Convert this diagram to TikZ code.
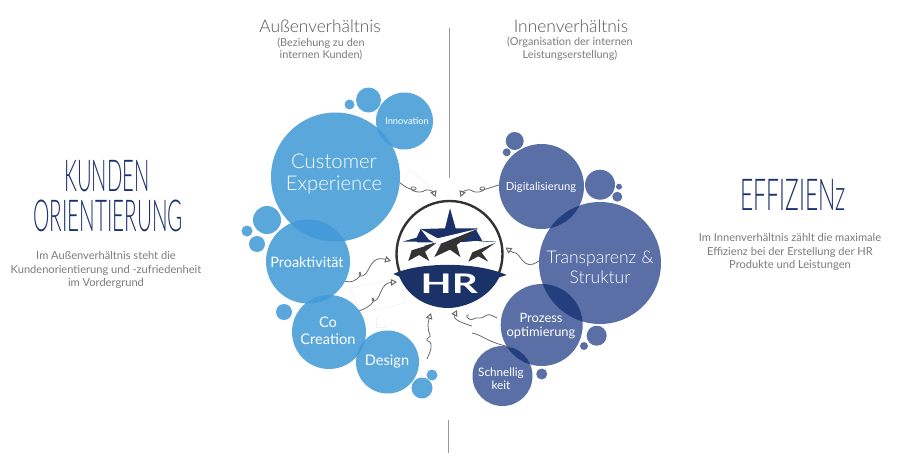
\documentclass[tikz,border=0pt]{standalone}
\usepackage{fontspec}
\usetikzlibrary{arrows.meta}
\setmainfont{Lato}
\newfontfamily\lgt{Lato Light}
\newfontfamily\hrf{Lato Bold}
\definecolor{lb}{HTML}{5AA7DC}
\definecolor{lbd}{HTML}{459BDA}
\definecolor{db}{HTML}{5A6FA6}
\definecolor{dbd}{HTML}{233F7E}
\definecolor{navy}{HTML}{1B3268}
\definecolor{hand}{HTML}{1A2F6E}
\definecolor{txt}{HTML}{7C7C7C}
\definecolor{hd}{HTML}{555555}
\definecolor{sq}{HTML}{6A6A6A}
\definecolor{dk}{HTML}{333333}
\tikzset{
 bub/.style 2 args={circle,inner sep=0pt,outer sep=0pt,text=white,align=center,font=\fontsize{#1}{#2}\selectfont},
 bubl/.style 2 args={circle,inner sep=0pt,outer sep=0pt,text=white,align=center,font=\lgt\fontsize{#1}{#2}\selectfont},
 lbub/.style={circle,inner sep=0pt,outer sep=0pt,fill=lb},
 dbub/.style={circle,inner sep=0pt,outer sep=0pt,fill=db},
 squig/.style={draw=sq,line width=.8pt,-{Triangle[open,length=6pt,width=6.5pt,line width=1pt]}},
 squigp/.style={draw=sq,line width=.8pt},
 headt/.style={text=hd,align=center,font=\lgt\fontsize{17.4}{20}\selectfont},
 subt/.style={text=txt,align=center,font=\fontsize{10.9}{12.5}\selectfont},
 bodyt/.style={text=txt,align=center,font=\fontsize{11.1}{13.2}\selectfont},
 handt/.style={text=hand,align=center,inner sep=0pt},
 divl/.style={draw=gray!80,line width=.7pt},
 faint/.style={draw=gray!12,line width=.5pt}
}
\newcommand{\handword}[2][.46]{\scalebox{#1}[1]{\lgt\fontsize{44}{44}\selectfont #2}}
\begin{document}
\begin{tikzpicture}[x=1pt,y=-1pt]
\useasboundingbox (0,0) rectangle (900,463);
\fill[white] (0,0) rectangle (900,463);
% divider lines
\coordinate (d1) at (449,28); \coordinate (d2) at (449,178);
\coordinate (d3) at (448,420); \coordinate (d4) at (448,453);
\draw[divl] (d1)--(d2); \draw[divl] (d3)--(d4);
% faint marks
\draw[faint] (350,288)--(400,278)--(405,303)--(360,313)--cycle;
\draw[faint] (376,317)--(376,327)--(387,327);
\draw[faint] (400,187)--(410,170)--(437,193);
% left bubbles
\node[lbub,minimum size=10pt] (s1) at (349.5,104.5) {};
\node[lbub,minimum size=25pt] (s2) at (368.5,100) {};
\node[lbub,minimum size=129pt] (cust) at (335.5,177) {};
\node[lbub,minimum size=57pt] (inno) at (404.5,121) {};
\node[lbub,minimum size=28pt] (s3) at (267,220) {};
\node[lbub,minimum size=16pt] (s4) at (257,244) {};
\node[lbub,minimum size=11pt] (s5) at (247,231) {};
\node[lbub,minimum size=84pt] (pro) at (308,261.5) {};
\node[lbub,minimum size=16pt] (s6) at (284,312) {};
\node[lbub,minimum size=74pt] (co) at (329,332) {};
\node[lbub,minimum size=63pt] (des) at (387.5,362) {};
\node[lbub,minimum size=21pt] (s7) at (422,388) {};
\node[lbub,minimum size=11pt] (s8) at (432,375) {};
% overlaps
\begin{scope}\clip (335.5,177) circle (64.5);\fill[lbd] (308,261.5) circle (42);\end{scope}
\begin{scope}\clip (335.5,177) circle (64.5);\fill[lbd] (404.5,121) circle (28.5);\end{scope}
\begin{scope}\clip (308,261.5) circle (42);\fill[lbd] (329,332) circle (37);\end{scope}
\begin{scope}\clip (329,332) circle (37);\fill[lbd] (387.5,362) circle (31.5);\end{scope}
% right bubbles
\node[dbub,minimum size=18pt] (r1) at (514.7,141) {};
\node[dbub,minimum size=8pt] (r2) at (506.7,152.3) {};
\node[dbub,minimum size=85pt] (dig) at (541.5,186.5) {};
\node[dbub,minimum size=30pt] (r3) at (600,184.7) {};
\node[dbub,minimum size=6pt] (r4) at (619,186.7) {};
\node[dbub,minimum size=10pt] (r5) at (617.3,196.7) {};
\node[dbub,minimum size=122pt] (tra) at (600,263) {};
\node[dbub,minimum size=82pt] (pz) at (541.7,325) {};
\node[dbub,minimum size=20pt] (r6) at (596.7,335.7) {};
\node[dbub,minimum size=8pt] (r7) at (584,346) {};
\node[dbub,minimum size=60pt] (sch) at (502.5,376) {};
\node[dbub,minimum size=11pt] (r8) at (541.7,374) {};
\begin{scope}\clip (600,263) circle (61);\fill[dbd] (541.5,186.5) circle (42.5);\end{scope}
\begin{scope}\clip (600,263) circle (61);\fill[dbd] (541.7,325) circle (41);\end{scope}
\begin{scope}\clip (541.7,325) circle (41);\fill[dbd] (502.5,376) circle (30);\end{scope}
% bubble texts
\node[bubl={20.3}{22.5}] (tc) at (334,174) {Customer\\Experience};
\node[bub={9.3}{12}] (ti) at (407,121) {Innovation};
\node[bub={14.4}{16}] (tp) at (307,262) {Proaktivität};
\node[bub={14.6}{17.5}] (tco) at (328,331) {Co\\Creation};
\node[bub={14.6}{17}] (td) at (387,362) {Design};
\node[bub={11.2}{14}] (tdg) at (541,187) {Digitalisierung};
\node[bubl={17.5}{19.5}] (tt) at (600,267.5) {Transparenz \&\\Struktur};
\node[bub={12.9}{14.5}] (tz) at (541,326) {Prozess\\optimierung};
\node[bub={11.7}{13.5}] (ts) at (501,378.5) {Schnellig\\keit};
% logo
\node[circle,minimum size=108pt,inner sep=0pt,outer sep=0pt] (logo) at (449.5,254) {};
\begin{scope}
 \clip (380,170) rectangle (520,272);
 \draw[dk,line width=2.4pt] (449.5,254) circle (53);
\end{scope}
\begin{scope}[shift={(380,170)},x=.3333pt,y=-.3333pt]
 \fill[navy] (40,312) .. controls (120,275) and (290,275) .. (380,315) -- (358,322) .. controls (320,395) and (240,414) .. (205,414) .. controls (160,414) and (90,395) .. (58,320) -- cycle;
 \node[text=white,inner sep=0pt] (hr) at (208,340) {\scalebox{1.5}[1]{\hrf\fontsize{27}{27}\selectfont HR}};
\end{scope}
\begin{scope}[shift={(395,205)},x=.3333pt,y=-.3333pt]
 % navy star tops
 \fill[navy] (165,10) -- (182,70) -- (248,70) -- (244,76) -- (262,108) -- (303,110) -- (240,122) -- (198,110) -- (130,118) -- (90,125) -- (65,110) -- (22,110) -- (65,98) -- (77,72) -- (150,70) -- cycle;
 % white wings
 \fill[white] (78,73) -- (128,100) -- (246,72) -- (140,115) -- (115,125) -- (118,112) -- (102,104) -- cycle;
 \fill[white] (24,112) -- (122,112) -- (50,134) -- cycle;
 \fill[white] (198,112) -- (240,108) -- (302,112) -- (228,142) -- cycle;
 % dark legs
 \fill[dk] (40,168) -- (50,136) -- (125,113) -- (90,140) -- (103,168) -- (72,150) -- cycle;
 \fill[dk] (118,156) -- (138,117) -- (246,74) -- (185,120) -- (196,156) -- (165,134) -- cycle;
 \fill[dk] (220,170) -- (232,142) -- (302,113) -- (260,143) -- (280,170) -- (250,154) -- cycle;
\end{scope}
% squiggles
\coordinate (t1) at (435.5,197); \coordinate (t2) at (460.5,197); \coordinate (t3) at (505.5,247.5);
\coordinate (t5) at (457,310); \coordinate (t6) at (431,313);
\coordinate (t7) at (397,282); \coordinate (t8) at (391,261);
\coordinate (b4) at (497,318); \coordinate (b5) at (472,326); \coordinate (b6) at (427,359);
\draw[squig] (cust.-5) .. controls (405,187) and (409,189) .. (414,190) .. controls (418,190) and (416,186) .. (412,187) .. controls (409,189) and (413,192) .. (420,192) .. controls (425,192) and (424,189) .. (429,190) .. controls (433,191) and (434,193) .. (t1);
\draw[squig] (dig.178) .. controls (491,187) and (488,189) .. (482,190) .. controls (478,190) and (480,186) .. (484,187) .. controls (487,189) and (481,193) .. (475,192) .. controls (471,191) and (471,189) .. (467,190) .. controls (463,191) and (462,193) .. (t2);
\draw[squig] (tra.178) .. controls (530,267) and (527,265) .. (522,260) .. controls (519,256) and (519,255) .. (516,253) .. controls (513,253) and (512,252) .. (t3);
\draw[squigp] (b4) .. controls (493,316) and (490,314) .. (487,315) .. controls (484,316) and (482,319) .. (478,318) .. controls (475,317) and (473,321) .. (469,319) .. controls (466,317) and (466,314) .. (469,315);
\draw[squigp] (sch.72) .. controls (486,342) and (483,335) .. (472,333);
\draw[squig] (b5) .. controls (466,324) and (452,320) .. (t5);
\draw[squig] (b6) .. controls (429,354) and (432,349) .. (431,344) .. controls (430,340) and (426,342) .. (427,339) .. controls (428,336) and (431,338) .. (430,335) .. controls (427,328) and (428,322) .. (t6);
\draw[squig] (co.35) .. controls (365,309) and (370,306) .. (373,302) .. controls (375,298) and (372,297) .. (372,299) .. controls (372,303) and (377,301) .. (379,296) .. controls (382,290) and (383,283) .. (t7);
\draw[squig] (pro.-28) .. controls (350,283) and (356,281) .. (360,276) .. controls (362,272) and (359,271) .. (359,274) .. controls (359,278) and (365,276) .. (367,272) .. controls (371,265) and (374,256) .. (t8);
% headings
\node[headt] (h1) at (320,26) {Außenverhältnis};
\node[subt] (h1s) at (321,49) {(Beziehung zu den\\ internen Kunden)};
\node[headt] (h2) at (571,26) {Innenverhältnis};
\node[subt] (h2s) at (570,49) {(Organisation der internen\\ Leistungserstellung)};
% hand titles
\node[handt] (k1) at (107,176.5) {\handword{KUNDEN}};
\node[handt] (k2) at (108,216) {\handword[.47]{ORIENTIERUNG}};
\node[handt] (e1) at (793,195) {\handword[.52]{EFFIZIENz}};
\node[bodyt] (b1) at (106,270) {Im Außenverhältnis steht die\\Kundenorientierung und -zufriedenheit\\im Vordergrund};
\node[bodyt] (b2) at (790,252) {Im Innenverhältnis zählt die maximale\\Effizienz bei der Erstellung der HR\\Produkte und Leistungen};
\end{tikzpicture}
\end{document}
